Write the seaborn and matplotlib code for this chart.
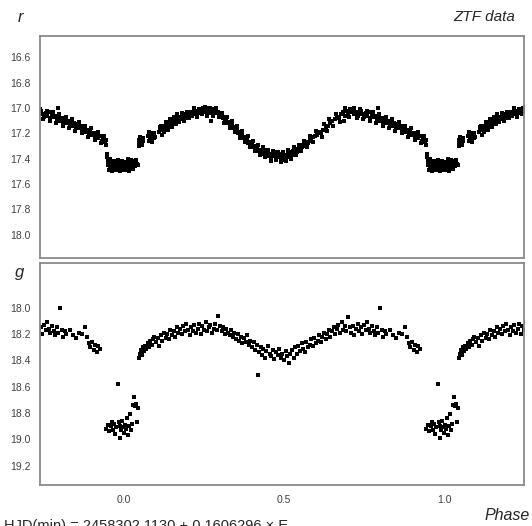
import numpy as np
import pandas as pd
import matplotlib
matplotlib.use("Agg")
import matplotlib.pyplot as plt
import seaborn as sns

# ---------------- data (phase-folded, phase in [0,1)) ----------------
r_phase = [
    0.002, 0.004, 0.006, 0.008, 0.010, 0.012, 0.014, 0.016, 0.018, 0.020, 0.022, 0.024, 0.027, 0.030, 0.032, 0.035, 0.038, 0.040,
    0.046, 0.048, 0.050, 0.052, 0.058, 0.060,
    0.076, 0.078, 0.080, 0.082, 0.085, 0.088, 0.090, 0.095, 0.098,
    0.110, 0.114, 0.118, 0.120, 0.123, 0.126, 0.129, 0.132, 0.135, 0.138, 0.141, 0.144, 0.147, 0.150, 0.153, 0.156, 0.159, 0.162, 0.165, 0.168, 0.171, 0.174,
    0.178, 0.182, 0.186, 0.190, 0.194, 0.198, 0.202, 0.206, 0.210, 0.214, 0.218, 0.222, 0.226, 0.230, 0.234, 0.238, 0.242, 0.246, 0.250, 0.254, 0.258, 0.262, 0.272,
    0.266, 0.270, 0.275, 0.280, 0.285, 0.290, 0.295, 0.300,
    0.304, 0.308, 0.312, 0.316, 0.320, 0.324, 0.328, 0.332, 0.336, 0.340, 0.344, 0.348, 0.352, 0.356, 0.360, 0.364, 0.368, 0.372, 0.376, 0.380, 0.384, 0.388, 0.392, 0.396, 0.400, 0.404, 0.408, 0.412, 0.416, 0.420, 0.424, 0.428,
    0.432, 0.436, 0.440, 0.444, 0.448, 0.452, 0.456, 0.460, 0.464, 0.468, 0.472, 0.476, 0.480, 0.484, 0.488, 0.492, 0.496, 0.500, 0.504, 0.508,
    0.512, 0.516, 0.520, 0.524, 0.528, 0.532, 0.536, 0.540, 0.544, 0.548, 0.552, 0.556, 0.560, 0.565, 0.570, 0.575, 0.580, 0.585, 0.590, 0.596, 0.602, 0.608,
    0.615, 0.622, 0.630, 0.638, 0.645, 0.650, 0.658, 0.665, 0.672, 0.678, 0.684, 0.688, 0.690, 0.695, 0.700, 0.706, 0.710,
    0.715, 0.720, 0.725, 0.730, 0.735, 0.740, 0.745, 0.750, 0.755, 0.760, 0.765, 0.770, 0.775, 0.780, 0.785, 0.790, 0.793, 0.795, 0.800,
    0.805, 0.810, 0.815, 0.820, 0.825, 0.830, 0.835, 0.840, 0.845, 0.850, 0.855, 0.860, 0.865, 0.870,
    0.875, 0.880, 0.885, 0.890, 0.895, 0.900, 0.905, 0.910, 0.915, 0.920, 0.925, 0.930, 0.935, 0.940, 0.944,
    0.947, 0.949, 0.951, 0.953, 0.955, 0.958, 0.961, 0.964, 0.967, 0.970, 0.973, 0.976, 0.979, 0.982, 0.985, 0.988, 0.991, 0.994, 0.997,
]
r_mag = [
    17.45, 17.43, 17.47, 17.44, 17.46, 17.42, 17.48, 17.45, 17.43, 17.47, 17.44, 17.46, 17.43, 17.45, 17.42, 17.44, 17.43, 17.44,
    17.28, 17.25, 17.23, 17.27, 17.24, 17.26,
    17.22, 17.26, 17.20, 17.24, 17.22, 17.25, 17.21, 17.20, 17.23,
    17.19, 17.17, 17.21, 17.16, 17.15, 17.17, 17.14, 17.13, 17.15, 17.12, 17.14, 17.11, 17.13, 17.10, 17.12, 17.09, 17.11, 17.08, 17.10, 17.07, 17.09, 17.08,
    17.07, 17.09, 17.06, 17.08, 17.05, 17.07, 17.04, 17.06, 17.03, 17.05, 17.04, 17.02, 17.05, 17.03, 17.01, 17.04, 17.02, 17.00, 17.03, 17.01, 17.04, 17.00, 17.10,
    17.02, 17.04, 17.01, 17.03, 17.02, 17.04, 17.03, 17.05,
    17.06, 17.08, 17.07, 17.10, 17.09, 17.12, 17.11, 17.14, 17.13, 17.16, 17.15, 17.18, 17.17, 17.20, 17.19, 17.22, 17.21, 17.24, 17.23, 17.26, 17.25, 17.28, 17.27, 17.29, 17.28, 17.31, 17.30, 17.32, 17.31, 17.34, 17.33, 17.35,
    17.34, 17.36, 17.33, 17.37, 17.35, 17.38, 17.36, 17.39, 17.37, 17.35, 17.38, 17.40, 17.37, 17.39, 17.36, 17.40, 17.38, 17.41, 17.37, 17.39,
    17.36, 17.38, 17.35, 17.37, 17.34, 17.36, 17.33, 17.35, 17.32, 17.33, 17.30, 17.31, 17.29, 17.30, 17.27, 17.28, 17.25, 17.26, 17.23, 17.22, 17.21, 17.19,
    17.20, 17.17, 17.15, 17.14, 17.12, 17.10, 17.09, 17.07, 17.08, 17.05, 17.03, 17.10, 17.06, 17.02, 17.04, 17.01, 17.03,
    17.02, 17.05, 17.03, 17.06, 17.04, 17.02, 17.05, 17.07, 17.04, 17.06, 17.03, 17.08, 17.05, 17.07, 17.06, 17.09, 17.00, 17.07, 17.10,
    17.08, 17.11, 17.09, 17.12, 17.10, 17.13, 17.11, 17.14, 17.12, 17.15, 17.13, 17.16, 17.14, 17.17,
    17.16, 17.19, 17.17, 17.20, 17.18, 17.21, 17.20, 17.23, 17.21, 17.24, 17.22, 17.26, 17.24, 17.27, 17.25,
    17.39, 17.42, 17.45, 17.41, 17.47, 17.44, 17.46, 17.43, 17.48, 17.45, 17.47, 17.44, 17.49, 17.46, 17.44, 17.47, 17.45, 17.48, 17.46,
]

# second group of r-band measurements (widens the band)
r_phase_b = [
    0.005, 0.011, 0.017, 0.023, 0.029, 0.034, 0.039, 0.043,
    0.047, 0.055, 0.079, 0.087, 0.093,
    0.112, 0.117, 0.124, 0.131, 0.137, 0.143, 0.149, 0.155, 0.161, 0.167, 0.173,
    0.180, 0.188, 0.196, 0.204, 0.212, 0.220, 0.228, 0.236, 0.244, 0.252, 0.260, 0.268, 0.278, 0.288, 0.298,
    0.306, 0.314, 0.322, 0.330, 0.338, 0.346, 0.354, 0.362, 0.370, 0.378, 0.386, 0.394, 0.402, 0.410, 0.418, 0.426,
    0.434, 0.442, 0.450, 0.458, 0.466, 0.474, 0.482, 0.490, 0.498, 0.506, 0.514, 0.522, 0.530, 0.538, 0.546, 0.554, 0.562, 0.572, 0.582, 0.592, 0.600,
    0.618, 0.626, 0.634, 0.642, 0.654, 0.662, 0.676, 0.692, 0.702,
    0.718, 0.728, 0.738, 0.748, 0.758, 0.768, 0.778, 0.788, 0.798,
    0.808, 0.818, 0.828, 0.838, 0.848, 0.858, 0.868,
    0.878, 0.888, 0.898, 0.908, 0.918, 0.928, 0.938, 0.943,
    0.948, 0.952, 0.957, 0.963, 0.969, 0.975, 0.981, 0.987, 0.993, 0.998,
]
r_mag_b = [
    17.49, 17.40, 17.50, 17.41, 17.48, 17.46, 17.41, 17.45,
    17.30, 17.29, 17.19, 17.27, 17.24,
    17.15, 17.14, 17.19, 17.11, 17.17, 17.09, 17.15, 17.07, 17.13, 17.05, 17.11,
    17.04, 17.10, 17.03, 17.08, 17.06, 17.00, 17.07, 17.02, 17.05, 16.99, 17.06, 17.00, 17.06, 17.00, 17.07,
    17.04, 17.12, 17.07, 17.16, 17.10, 17.19, 17.14, 17.24, 17.18, 17.27, 17.22, 17.31, 17.26, 17.34, 17.29, 17.37,
    17.31, 17.39, 17.33, 17.42, 17.34, 17.41, 17.35, 17.43, 17.35, 17.42, 17.33, 17.40, 17.31, 17.37, 17.29, 17.34, 17.26, 17.31, 17.22, 17.27, 17.18,
    17.23, 17.13, 17.18, 17.09, 17.14, 17.05, 17.11, 17.00, 17.07,
    17.00, 17.08, 17.01, 17.09, 17.02, 17.10, 17.03, 17.12, 17.05,
    17.14, 17.07, 17.16, 17.09, 17.18, 17.11, 17.20,
    17.14, 17.23, 17.16, 17.25, 17.19, 17.28, 17.22, 17.29,
    17.36, 17.49, 17.40, 17.50, 17.42, 17.49, 17.41, 17.50, 17.42, 17.49,
]

g_phase = [
    0.945, 0.950, 0.953, 0.958, 0.962, 0.966, 0.970, 0.973, 0.976, 0.980, 0.983, 0.986, 0.989, 0.992, 0.995, 0.998,
    0.001, 0.004, 0.007, 0.010, 0.013, 0.016, 0.019, 0.022, 0.025, 0.028, 0.031, 0.034, 0.038, 0.041, 0.044,
    0.047, 0.050, 0.053, 0.056, 0.059, 0.062, 0.066, 0.070, 0.074, 0.078,
    0.082, 0.086, 0.090, 0.095, 0.100, 0.105, 0.110, 0.115, 0.120, 0.125, 0.130, 0.135, 0.140, 0.145, 0.150, 0.155, 0.160, 0.165, 0.170, 0.175,
    0.180, 0.185, 0.190, 0.195, 0.200, 0.205, 0.210, 0.215, 0.220, 0.225, 0.230, 0.235, 0.240, 0.245, 0.250, 0.255, 0.260, 0.265, 0.270, 0.275, 0.280, 0.285, 0.290, 0.295, 0.300, 0.305, 0.310, 0.315, 0.320, 0.325,
    0.330, 0.335, 0.340, 0.345, 0.350, 0.355, 0.360, 0.365, 0.370, 0.375, 0.380, 0.385, 0.390, 0.395, 0.400, 0.405, 0.410, 0.415, 0.420, 0.423, 0.427, 0.430, 0.435, 0.440, 0.445, 0.450, 0.455, 0.460, 0.465, 0.470, 0.475, 0.480, 0.485, 0.490, 0.495, 0.500, 0.505, 0.510, 0.515, 0.520,
    0.525, 0.530, 0.535, 0.540, 0.545, 0.550, 0.555, 0.560, 0.565, 0.570, 0.575, 0.580, 0.585, 0.590, 0.595, 0.600, 0.605, 0.610, 0.615, 0.620, 0.625, 0.630, 0.635, 0.640, 0.645, 0.650, 0.655, 0.660, 0.665, 0.670, 0.675, 0.680, 0.685, 0.690, 0.695, 0.700, 0.705,
    0.710, 0.715, 0.720, 0.725, 0.730, 0.735, 0.740, 0.745, 0.750, 0.755, 0.760, 0.765, 0.770, 0.775, 0.780, 0.785, 0.790, 0.795, 0.800, 0.805, 0.810, 0.815, 0.820, 0.830, 0.840, 0.850, 0.860, 0.870,
    0.878, 0.885, 0.890, 0.895, 0.900, 0.905, 0.910, 0.915, 0.920, 0.925,
]
g_mag = [
    18.92, 18.89, 18.94, 18.90, 18.87, 18.93, 18.88, 18.96, 18.91, 18.58, 18.87, 18.99, 18.90, 18.93, 18.86, 18.91,
    18.95, 18.89, 18.92, 18.84, 18.97, 18.90, 18.81, 18.93, 18.88, 18.74, 18.68, 18.75, 18.73, 18.87, 18.76,
    18.38, 18.35, 18.32, 18.36, 18.30, 18.33, 18.29, 18.31, 18.27, 18.30,
    18.25, 18.28, 18.24, 18.22, 18.26, 18.23, 18.29, 18.21, 18.25, 18.19, 18.23, 18.20, 18.24, 18.17, 18.21, 18.18, 18.22, 18.15, 18.19, 18.16,
    18.20, 18.14, 18.18, 18.12, 18.17, 18.21, 18.15, 18.18, 18.13, 18.19, 18.16, 18.12, 18.20, 18.14, 18.17, 18.11, 18.18, 18.15, 18.13, 18.19, 18.16, 18.12, 18.17, 18.06, 18.14, 18.18, 18.15, 18.20, 18.16, 18.19,
    18.21, 18.17, 18.22, 18.19, 18.24, 18.20, 18.25, 18.22, 18.27, 18.23, 18.26, 18.21, 18.28, 18.25, 18.30, 18.26, 18.32, 18.28, 18.51, 18.34, 18.30, 18.36, 18.31, 18.38, 18.33, 18.29, 18.35, 18.37, 18.32, 18.39, 18.34, 18.36, 18.31, 18.38, 18.35, 18.40, 18.33, 18.37, 18.42, 18.35,
    18.32, 18.38, 18.30, 18.35, 18.29, 18.33, 18.27, 18.31, 18.34, 18.26, 18.30, 18.28, 18.24, 18.29, 18.23, 18.27, 18.25, 18.21, 18.26, 18.22, 18.19, 18.24, 18.20, 18.17, 18.22, 18.18, 18.15, 18.20, 18.16, 18.13, 18.19, 18.11, 18.17, 18.14, 18.18, 18.07, 18.15,
    18.19, 18.14, 18.21, 18.16, 18.12, 18.18, 18.15, 18.20, 18.13, 18.17, 18.11, 18.16, 18.19, 18.14, 18.18, 18.21, 18.15, 18.19, 18.00, 18.17, 18.22, 18.18, 18.20, 18.17, 18.21, 18.23, 18.19, 18.20,
    18.15, 18.22, 18.27, 18.30, 18.26, 18.32, 18.28, 18.34, 18.29, 18.31,
]

r_ticks = [16.6, 16.8, 17.0, 17.2, 17.4, 17.6, 17.8, 18.0]
r_ticklabels = ["16.6", "16.8", "17.0", "17.2", "17.4", "17.6", "17.8", "18.0"]
g_ticks = [17.8, 18.0, 18.2, 18.4, 18.6, 18.8, 19.0, 19.2]
g_ticklabels = ["", "18.0", "18.2", "18.4", "18.6", "18.8", "19.0", "19.2"]
x_ticks = [0.0, 0.5, 1.0]
x_ticklabels = ["0.0", "0.5", "1.0"]
shifts = [-1.0, 0.0, 1.0]

ephemeris_text = "HJD(min) = 2458302.1130 + 0.1606296 \u00d7 E"


def folded(phase, mag):
    frames = []
    for s in shifts:
        frames.append(pd.DataFrame({"phase": np.asarray(phase) + s, "mag": mag}))
    return pd.concat(frames, ignore_index=True)


df_r = folded(r_phase + r_phase_b, r_mag + r_mag_b)
df_g = folded(g_phase, g_mag)

sns.set_style("white")
plt.rcParams["font.family"] = ["Liberation Sans", "DejaVu Sans"]

W, H = 532, 526
fig = plt.figure(figsize=(W / 100, H / 100), dpi=100)


def frac_box(left, top, right, bottom):
    return [left / W, 1 - bottom / H, (right - left) / W, (bottom - top) / H]


ax_r = fig.add_axes(frac_box(40, 36, 524, 258))
ax_g = fig.add_axes(frac_box(40, 263, 524, 485))

xlim = (-0.2625, 1.25)
frame_col = "#8a8a8a"
for ax, df, ylim, ticks, labels in [
    (ax_r, df_r, (18.184, 16.432), r_ticks, r_ticklabels),
    (ax_g, df_g, (19.347, 17.66), g_ticks, g_ticklabels),
]:
    sns.scatterplot(data=df, x="phase", y="mag", ax=ax, marker="s", s=12,
                    color="black", linewidth=0, legend=False)
    ax.set_xlim(*xlim)
    ax.set_ylim(*ylim)
    ax.set_yticks(ticks)
    ax.set_yticklabels(labels)
    ax.set_xticks(x_ticks)
    ax.set_xlabel("")
    ax.set_ylabel("")
    for sp in ax.spines.values():
        sp.set_visible(True)
        sp.set_color(frame_col)
        sp.set_linewidth(1.3)
    ax.tick_params(axis="both", direction="in", length=4, width=0.9,
                   color="#555555", labelsize=7.5, labelcolor="#404040", pad=7)

ax_r.set_xticklabels([])
ax_g.set_xticklabels(x_ticklabels)
ax_g.tick_params(axis="x", pad=7)

fig.text(20 / W, 1 - 17 / H, "r", fontsize=12, style="italic", ha="center", va="center")
fig.text(20 / W, 1 - 272 / H, "g", fontsize=12, style="italic", ha="center", va="center")
fig.text(515 / W, 1 - 17 / H, "ZTF data", fontsize=11, style="italic", ha="right", va="center")
fig.text(530 / W, 1 - 516 / H, "Phase", fontsize=11.5, style="italic", ha="right", va="center")
fig.text(4 / W, -4 / H, ephemeris_text, fontsize=10.5, ha="left", va="baseline")

fig.savefig("out.png", dpi=100)
